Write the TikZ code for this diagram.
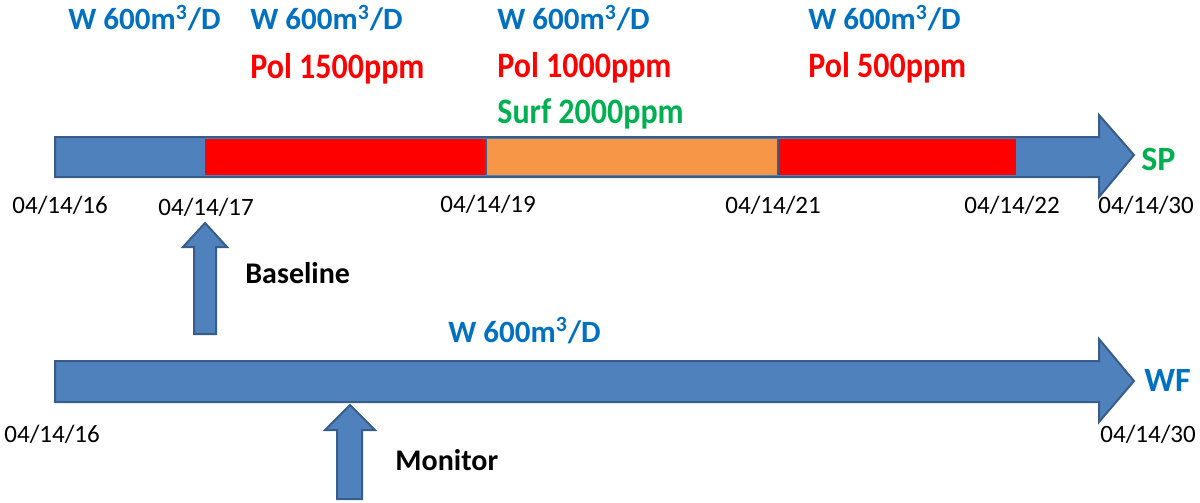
\documentclass[tikz,border=0pt]{standalone}
\usepackage{fontspec}
\setmainfont{Carlito}
\definecolor{arrowfill}{HTML}{4F81BD}
\definecolor{arrowline}{HTML}{385D8A}
\definecolor{polred}{HTML}{FF0000}
\definecolor{surforange}{HTML}{F79646}
\definecolor{txtblue}{HTML}{0070C0}
\definecolor{txtgreen}{HTML}{00B050}
\tikzset{
  bigarrow/.style={fill=arrowfill,draw=arrowline,line width=1pt,line join=miter},
  lbl/.style={inner sep=0pt,anchor=base west,font=\bfseries\fontsize{15.5}{18}\selectfont},
  wlbl/.style={lbl,text=txtblue},
  plbl/.style={lbl,text=polred,font=\bfseries\fontsize{16}{19}\selectfont},
  slbl/.style={lbl,text=txtgreen,font=\bfseries\fontsize{16}{19}\selectfont},
  datelbl/.style={inner sep=0pt,anchor=base west,font=\fontsize{12.5}{15}\selectfont},
  blk/.style={lbl,text=black,font=\bfseries\fontsize{15}{18}\selectfont},
  endlbl/.style={lbl,font=\bfseries\fontsize{17}{20}\selectfont}
}
\newcommand{\tall}[1]{\scalebox{1}[1.12]{#1}}
\begin{document}
\begin{tikzpicture}[x=0.5pt,y=-0.5pt]
\useasboundingbox (0,0) rectangle (1200,503);
% top arrow
\draw[bigarrow] (55,137) -- (1099,137) -- (1099,115) -- (1134,155) -- (1099,197) -- (1099,177) -- (55,177) -- cycle;
\fill[polred] (205,139) rectangle (486,175);
\fill[surforange] (486,139) rectangle (778,175);
\draw[arrowline,line width=0.8pt] (486,139) -- (486,175) (778,139) -- (778,175);
\fill[polred] (779,139) rectangle (1016,175);
% top labels
\node[wlbl] (w1) at (68,30) {W 600m\textsuperscript{3}/D};
\node[wlbl] (w2) at (250,30) {W 600m\textsuperscript{3}/D};
\node[plbl] (p2) at (250,78) {\tall{Pol 1500ppm}};
\node[wlbl] (w3) at (497,30) {W 600m\textsuperscript{3}/D};
\node[plbl] (p3) at (497,77) {\tall{Pol 1000ppm}};
\node[slbl] (s3) at (497,123) {\tall{Surf 2000ppm}};
\node[wlbl] (w4) at (808,30) {W 600m\textsuperscript{3}/D};
\node[plbl] (p4) at (808,77) {\tall{Pol 500ppm}};
\node[endlbl,text=txtgreen] (sp) at (1141,170) {SP};
% top dates
\node[datelbl] (d16) at (12,213) {04/14/16};
\node[datelbl] (d17) at (158,215) {04/14/17};
\node[datelbl] (d19) at (440,212) {04/14/19};
\node[datelbl] (d21) at (725,213) {04/14/21};
\node[datelbl] (d22) at (964,213) {04/14/22};
\node[datelbl] (d30) at (1098,213) {04/14/30};
% baseline arrow
\draw[bigarrow] (194,334) -- (194,247) -- (183,247) -- (205,223) -- (227,247) -- (216,247) -- (216,334) -- cycle;
\node[blk] (bl) at (245,283) {Baseline};
% bottom arrow
\draw[bigarrow] (55,361) -- (1099,361) -- (1099,339) -- (1134,381) -- (1099,422) -- (1099,402) -- (55,402) -- cycle;
\node[wlbl] (wb) at (448,342) {W 600m\textsuperscript{3}/D};
\node[endlbl,text=txtblue] (wf) at (1144,391) {WF};
\node[datelbl] (b16) at (4,442) {04/14/16};
\node[datelbl] (b30) at (1100,442) {04/14/30};
% monitor arrow
\draw[bigarrow] (337,499) -- (337,430) -- (325,430) -- (350,405) -- (375,430) -- (362,430) -- (362,499) -- cycle;
\node[blk] (mon) at (395,470) {Monitor};
\end{tikzpicture}
\end{document}
